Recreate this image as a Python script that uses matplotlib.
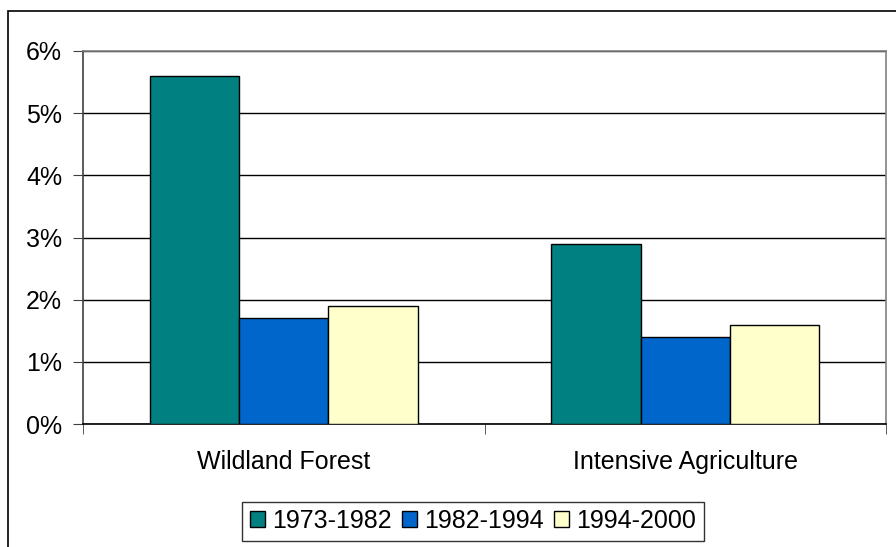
import numpy as np
import matplotlib.pyplot as plt
from matplotlib.patches import Rectangle

# data
categories = ['Wildland Forest', 'Intensive Agriculture']
periods = ['1973-1982', '1982-1994', '1994-2000']
values = [
    [5.6, 2.9],
    [1.7, 1.4],
    [1.9, 1.6],
]
colors = ['#008080', '#0066CC', '#FFFFCC']
yticks = [0, 1, 2, 3, 4, 5, 6]

plt.rcParams['font.family'] = ['Liberation Sans', 'DejaVu Sans']
fs = 18

fig = plt.figure(figsize=(8.96, 5.47), dpi=100)
ax = fig.add_axes([83 / 896, 123 / 547, 803 / 896, 373 / 547])

# outer chart frame (cut off on right and bottom)
fig.patches.append(Rectangle((8 / 896, -0.1), 1.2, (547 - 11) / 547 + 0.1,
                             transform=fig.transFigure, fill=False,
                             edgecolor='black', linewidth=1.2))

x = np.arange(len(categories))
w = 0.2226
for i, (p, vals) in enumerate(zip(periods, values)):
    ax.bar(x + (i - 1) * w, vals, width=w, color=colors[i], edgecolor='black',
           linewidth=1, label=p, zorder=3)

ax.set_xlim(-0.5, 1.5)
ax.set_ylim(0, 6)
ax.set_yticks(yticks)
ax.set_yticklabels([f'{t}%' for t in yticks], fontsize=fs)
ax.yaxis.grid(True, color='black', linewidth=1)
ax.set_axisbelow(True)

ax.set_xticks(x)
ax.set_xticklabels(categories, fontsize=fs)
ax.set_xticks([-0.5, 0.5, 1.5], minor=True)
ax.tick_params(axis='x', which='major', length=0, pad=19)
ax.tick_params(axis='x', which='minor', length=7, direction='out', color='#404040')
ax.tick_params(axis='y', length=7, direction='out', color='#404040', pad=8)

ax.spines['top'].set_color('#808080')
ax.spines['right'].set_color('#808080')
ax.spines['left'].set_color('#404040')
ax.spines['bottom'].set_color('black')
for s in ax.spines.values():
    s.set_linewidth(1.2)

leg = fig.legend(loc='center', bbox_to_anchor=(473 / 896, 1 - 521 / 547), ncol=3,
                 fontsize=fs, frameon=True, fancybox=False, edgecolor='black',
                 handlelength=0.6, handleheight=0.6, handletextpad=0.3,
                 columnspacing=0.4, borderpad=0.3, borderaxespad=0)
leg.get_frame().set_linewidth(1)

fig.savefig('out.png', dpi=100)
